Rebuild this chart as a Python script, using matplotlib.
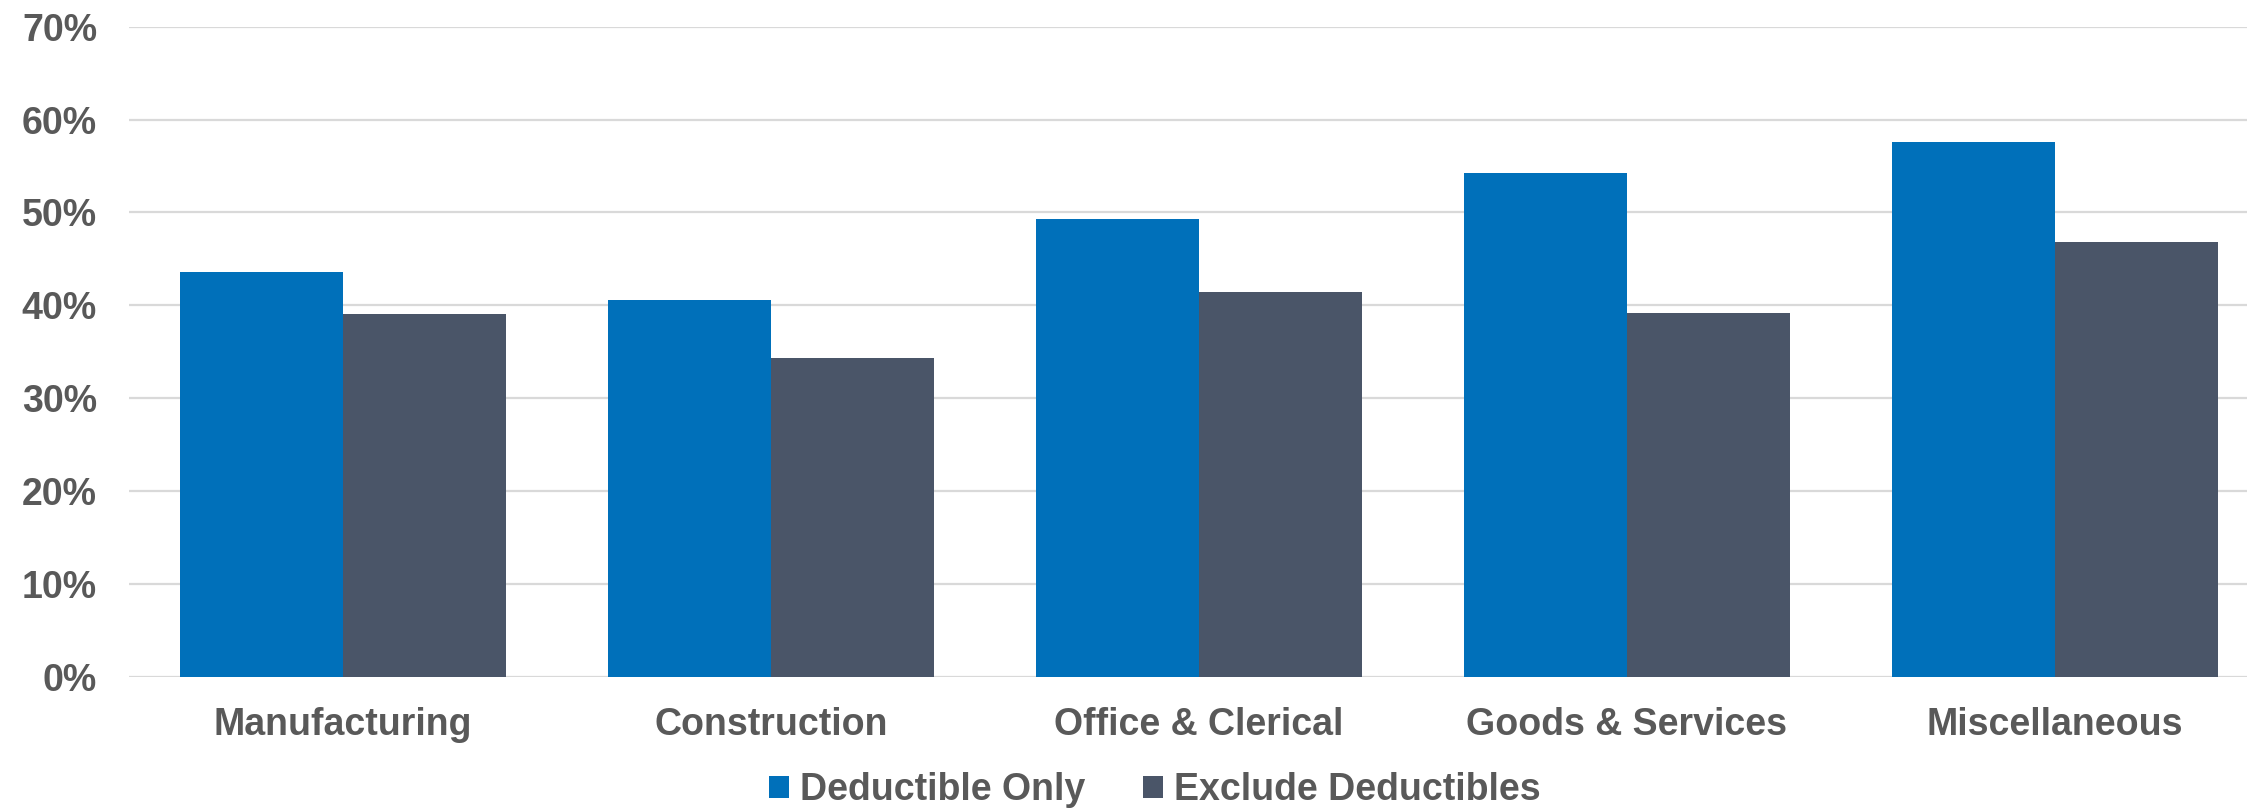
import matplotlib
matplotlib.use("Agg")
import matplotlib.pyplot as plt
from matplotlib.ticker import FuncFormatter
import numpy as np

categories = ["Manufacturing", "Construction", "Office & Clerical",
              "Goods & Services", "Miscellaneous"]
series_names = ["Deductible Only", "Exclude Deductibles"]
deductible_only = [43.6, 40.6, 49.3, 54.2, 57.6]
exclude_deductibles = [39.1, 34.3, 41.4, 39.2, 46.8]
y_ticks = [0, 10, 20, 30, 40, 50, 60, 70]

BLUE = "#0070BA"
SLATE = "#4A5568"
TEXT = "#595959"
GRID = "#D9D9D9"

plt.rcParams["font.family"] = ["Liberation Sans", "DejaVu Sans"]
plt.rcParams["font.weight"] = "bold"

fig = plt.figure(figsize=(22.47, 8.09), dpi=100)
ax = fig.add_axes([129 / 2247, 1 - 676.7 / 809, 2140 / 2247, 650 / 809])

x = np.arange(len(categories))
w = 0.382
ax.bar(x - w / 2, deductible_only, width=w, color=BLUE, label=series_names[0], zorder=3)
ax.bar(x + w / 2, exclude_deductibles, width=w, color=SLATE, label=series_names[1], zorder=3)

ax.set_xlim(-0.5, len(categories) - 0.5)
ax.set_ylim(0, 70)
ax.set_yticks(y_ticks)
ax.yaxis.set_major_formatter(FuncFormatter(lambda v, p: f"{v:.0f}%"))
ax.set_xticks(x)
ax.set_xticklabels(categories)

ax.grid(axis="y", color=GRID, linewidth=1.6, zorder=0)
ax.set_axisbelow(True)
for s in ax.spines.values():
    s.set_visible(False)
ax.tick_params(axis="both", length=0, labelsize=27, labelcolor=TEXT)
ax.tick_params(axis="y", pad=23)
ax.tick_params(axis="x", pad=22)
for lbl in ax.get_xticklabels() + ax.get_yticklabels():
    lbl.set_fontweight("bold")

leg = fig.legend(loc="center", bbox_to_anchor=(1155 / 2247, (809 - 790) / 809),
                 ncol=2, frameon=False, fontsize=27,
                 handlelength=0.52, handleheight=0.54, handletextpad=0.3,
                 columnspacing=1.55, borderaxespad=0, borderpad=0)
for t in leg.get_texts():
    t.set_color(TEXT)
    t.set_fontweight("bold")

fig.savefig("out.png", dpi=100, facecolor="white")
